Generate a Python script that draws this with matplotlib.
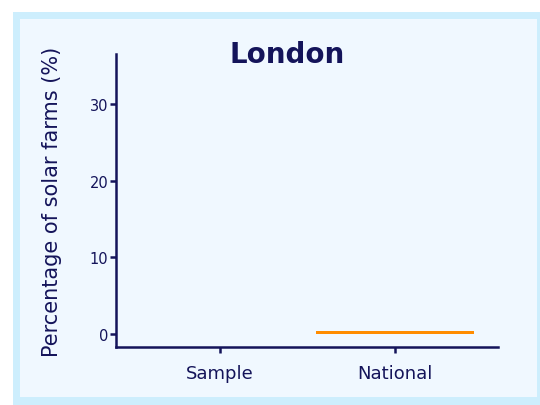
import numpy as np
import matplotlib.pyplot as plt
from matplotlib.patches import Rectangle

categories = ['Sample', 'National']
values = [0.0, 0.45]
yticks = [0, 10, 20, 30]

NAVY = '#14145a'
ORANGE = '#ff8c00'

plt.rcParams['font.family'] = ['DejaVu Sans']

fig = plt.figure(figsize=(5.4, 4.06), dpi=100)
fig.patch.set_facecolor('white')
# framed background
fig.patches.append(Rectangle((13/540, 0), 1, 1 - 13/406, transform=fig.transFigure,
                             facecolor='#cdeefd', edgecolor='none', zorder=-2))
fig.patches.append(Rectangle((20/540, 8/406), 517/540, 378/406, transform=fig.transFigure,
                             facecolor='#f0f8ff', edgecolor='none', zorder=-1))

ax = fig.add_axes([116/540, 1 - 348/406, (498 - 116)/540, (348 - 55)/406])
ax.set_facecolor('none')

x = np.arange(len(categories))
ax.bar(x[1:], values[1:], width=0.9, color=ORANGE)

ax.set_xlim(-0.594, 1.589)
ax.set_ylim(-1.7, 36.5)
ax.set_xticks(x)
ax.set_xticklabels(categories, fontsize=13, color=NAVY)
ax.set_yticks(yticks)
ax.set_yticklabels([str(t) for t in yticks], fontsize=10.5, color=NAVY)
ax.tick_params(axis='both', colors=NAVY, width=1.8, length=4.5)
ax.tick_params(axis='x', pad=8)
ax.tick_params(axis='y', pad=1)

for s in ['top', 'right']:
    ax.spines[s].set_visible(False)
for s in ['left', 'bottom']:
    ax.spines[s].set_color(NAVY)
    ax.spines[s].set_linewidth(1.8)

ax.set_ylabel('Percentage of solar farms (%)', fontsize=15, color=NAVY, labelpad=20)
fig.text(287/540, 1 - 55/406, 'London', ha='center', va='center',
         fontsize=20, fontweight='bold', color=NAVY)

fig.savefig('out.png', dpi=100)
